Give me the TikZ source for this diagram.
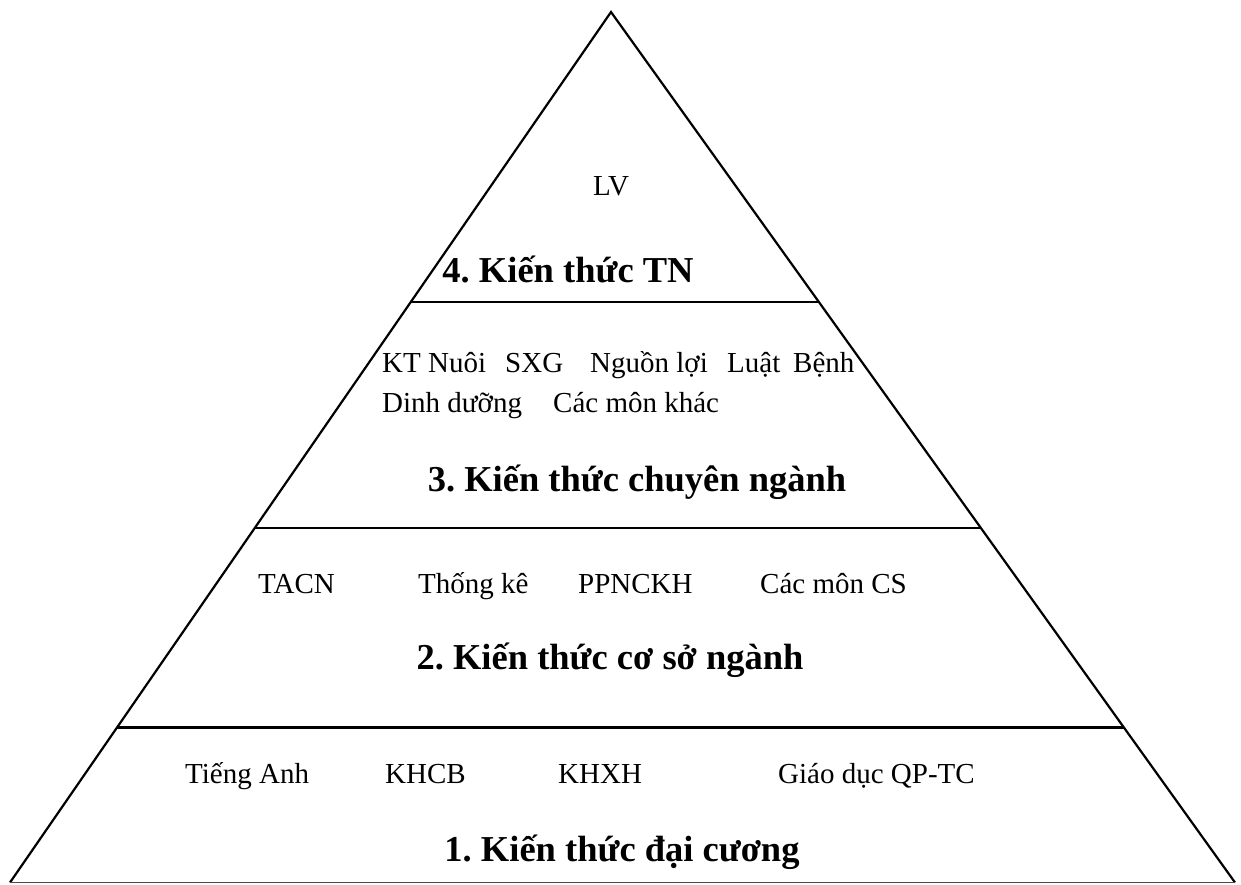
\documentclass[tikz,border=0pt]{standalone}
\usepackage{fontspec}
\setmainfont{Liberation Serif}
\usetikzlibrary{calc}
\frenchspacing
\begin{document}
\frenchspacing
\begin{tikzpicture}[x=1pt,y=-1pt,
  edge/.style={line width=2.2pt,black},
  item/.style={anchor=base west,inner sep=0pt,font=\fontsize{29}{34}\selectfont\frenchspacing},
  title/.style={anchor=base,inner sep=0pt,font=\fontsize{36.5}{42}\selectfont\bfseries\frenchspacing}]
\useasboundingbox (0,0) rectangle (1241,884);
\coordinate (A) at (611,12);
\coordinate (BL) at (10,882.5);
\coordinate (BR) at (1235,882.5);
\draw[edge,line join=miter] (BL) -- (A) -- (BR);
\draw[line width=1.4pt,black!70] (BL) -- (BR);
% dividing lines
\coordinate (L3) at ($(A)!0.3330!(BL)$);
\coordinate (R3) at ($(A)!0.3330!(BR)$);
\coordinate (L2) at ($(A)!0.5924!(BL)$);
\coordinate (R2) at ($(A)!0.5924!(BR)$);
\coordinate (L1) at ($(A)!0.8220!(BL)$);
\coordinate (R1) at ($(A)!0.8220!(BR)$);
\draw[edge] (L3) -- (R3);
\draw[edge] (L2) -- (R2);
\draw[edge] (L1) -- (R1);
% level 4
\node[anchor=base,inner sep=0pt,font=\fontsize{29}{34}\selectfont] (lv) at (611,195) {LV};
\node[title] (t4) at (568,282) {4. Kiến thức TN};
% level 3
\node[item] (ktn) at (382,372) {KT Nuôi};
\node[item] (sxg) at (505,372) {SXG};
\node[item] (ngl) at (590,372) {Nguồn lợi};
\node[item] (luat) at (727,372) {Luật};
\node[item] (benh) at (793,372) {Bệnh};
\node[item] (dd) at (382,412) {Dinh dưỡng};
\node[item] (cmk) at (553,412) {Các môn khác};
\node[title] (t3) at (637,491) {3. Kiến thức chuyên ngành};
% level 2
\node[item] (tacn) at (258,593) {TACN};
\node[item] (tk) at (418,593) {Thống kê};
\node[item] (pp) at (578,593) {PPNCKH};
\node[item] (cmcs) at (760,593) {Các môn CS};
\node[title] (t2) at (610,669) {2. Kiến thức cơ sở ngành};
% level 1
\node[item] (ta) at (185,783) {Tiếng Anh};
\node[item] (khcb) at (385,783) {KHCB};
\node[item] (khxh) at (558,783) {KHXH};
\node[item] (gd) at (778,783) {Giáo dục QP-TC};
\node[title] (t1) at (622,861) {1. Kiến thức đại cương};
\end{tikzpicture}
\end{document}
